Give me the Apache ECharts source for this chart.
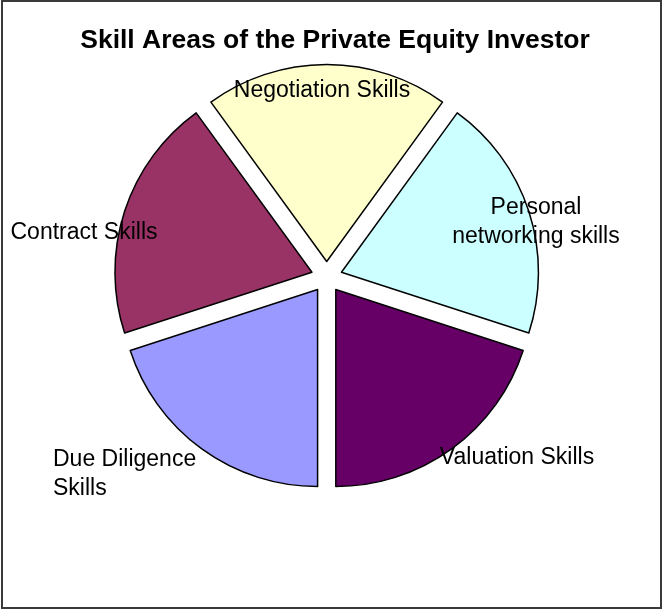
<!DOCTYPE html>
<html>
<head>
<meta charset="utf-8">
<script src="https://cdn.jsdelivr.net/npm/echarts@6/dist/echarts.min.js"></script>
<style>
  html, body { margin: 0; padding: 0; background: #fff; }
  #main { width: 665px; height: 612px; }
</style>
</head>
<body>
<div id="main"></div>
<script type="text/javascript">
    // slices, clockwise from the top one
    var categories = ['Negotiation Skills', 'Personal\nnetworking skills', 'Valuation Skills', 'Due Diligence\nSkills', 'Contract Skills'];
    var values = [20, 20, 20, 20, 20];
    var colors = ['#FFFFCC', '#CCFFFF', '#660066', '#9999FF', '#993366'];

    // where each label sits (x, middle y, align)
    var labelSpots = [
        [322, 91, 'center'],
        [536, 222, 'center'],
        [517, 458, 'center'],
        [53, 474, 'left'],
        [84, 233, 'center']
    ];

    var pieData = categories.map(function (name, i) {
        return {
            name: name,
            value: values[i],
            selected: true,
            itemStyle: {color: colors[i]},
            select: {itemStyle: {color: colors[i], borderColor: '#000', borderWidth: 1.5}}
        };
    });

    var graphics = [{
        type: 'rect',
        shape: {x: 2, y: 1, width: 659, height: 607},
        style: {fill: 'none', stroke: '#3a3a3a', lineWidth: 2},
        silent: true
    }];
    // slice labels, drawn on top of the pie
    categories.forEach(function (name, i) {
        var s = labelSpots[i];
        graphics.push({
            type: 'text',
            x: s[0],
            y: s[1],
            z: 100,
            silent: true,
            style: {
                text: name,
                textAlign: s[2],
                textVerticalAlign: 'middle',
                fill: '#000',
                fontFamily: 'Liberation Sans, Arial, sans-serif',
                fontSize: 23,
                lineHeight: 29
            }
        });
    });

    var myChart = echarts.init(document.getElementById('main'));
    myChart.setOption({
        animation: false,
        title: {
            text: 'Skill Areas of the Private Equity Investor',
            left: 330,
            top: 22,
            textAlign: 'center',
            textStyle: {
                fontFamily: 'Liberation Sans, Arial, sans-serif',
                fontWeight: 'bold',
                fontSize: 26.5,
                color: '#000'
            }
        },
        graphic: graphics,
        series: [{
            type: 'pie',
            center: [326.7, 277],
            radius: 197,
            startAngle: 126,
            clockwise: true,
            selectedMode: 'multiple',
            selectedOffset: 15.5,
            itemStyle: {borderColor: '#000', borderWidth: 1.5},
            emphasis: {disabled: true},
            label: {show: false},
            labelLine: {show: false},
            data: pieData
        }]
    });
</script>
</body>
</html>
